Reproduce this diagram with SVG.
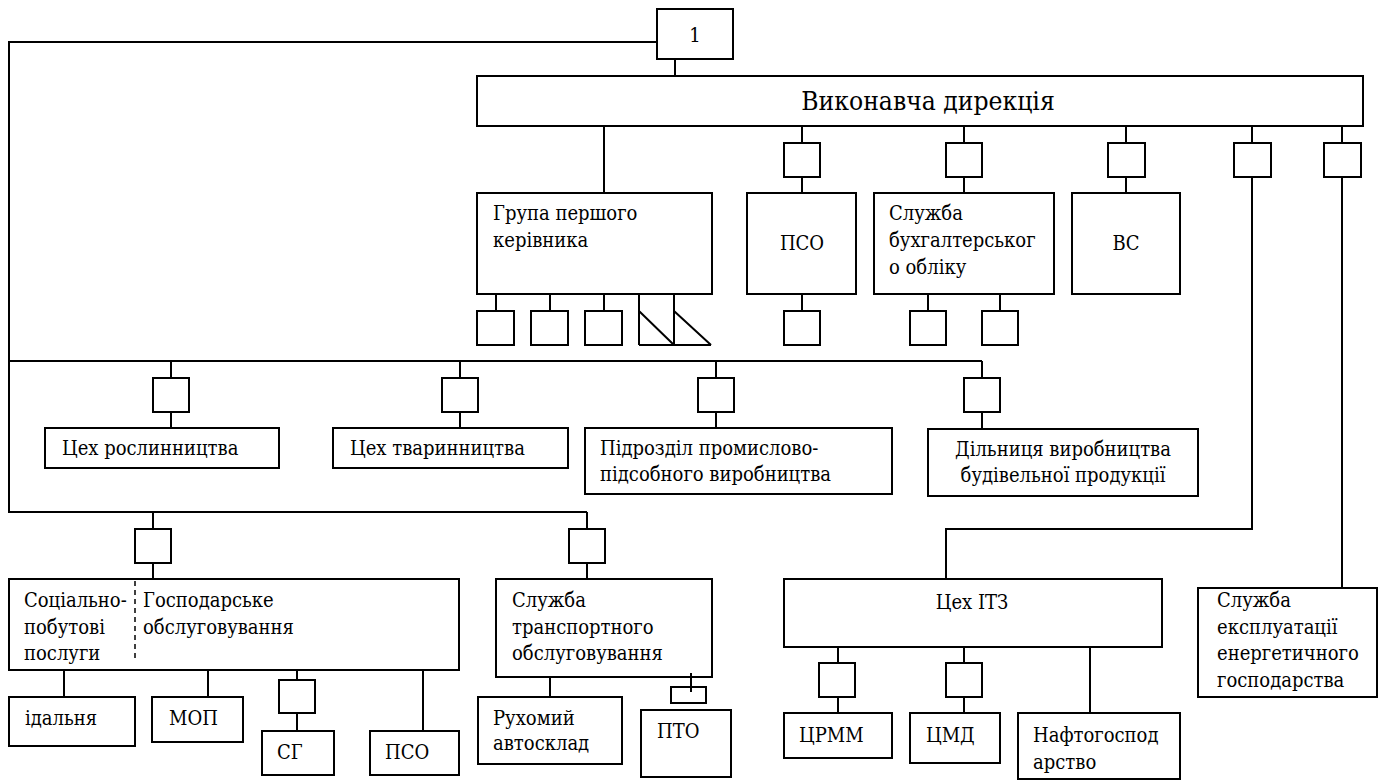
<svg xmlns="http://www.w3.org/2000/svg" width="1379" height="780" viewBox="0 0 1379 780">
<style>
rect{fill:#fff;stroke:#000;stroke-width:2}
path{fill:none;stroke:#000;stroke-width:2}
.dash{stroke-dasharray:5,4;stroke-width:1.5}
text{font-family:'DejaVu Serif Condensed','DejaVu Serif',serif;font-stretch:condensed;font-size:20px;fill:#000}
.c{text-anchor:middle}
.big{font-size:26.2px}
</style>
<rect x="0" y="0" width="1379" height="780" style="fill:#fff;stroke:none"/>
<g id="connectors">
<path d="M657,42 H9 V512 H587"/>
<path d="M9,361 H982"/>
<path d="M675,59 V76"/>
<path d="M604,126 V193"/>
<path d="M802,126 V143 M802,177 V193"/>
<path d="M964,126 V143 M964,177 V193"/>
<path d="M1126,126 V143 M1126,177 V193"/>
<path d="M1252,126 V143 M1252,177 V529 H946 V579"/>
<path d="M1342,126 V143 M1342,177 V588"/>
<path d="M496,294 V311 M550,294 V311 M604,294 V311"/>
<path d="M639,294 V345 M674,294 V345 M639,311 L674,345 M674,311 L711,345 M639,345 H711"/>
<path d="M802,294 V311"/>
<path d="M928,294 V311 M1000,294 V311"/>
<path d="M171,361 V378 M171,412 V428"/>
<path d="M460,361 V378 M460,412 V428"/>
<path d="M716,361 V378 M716,412 V428"/>
<path d="M982,361 V378 M982,412 V429"/>
<path d="M153,512 V529 M153,563 V579"/>
<path d="M587,512 V529 M587,563 V579"/>
<path d="M64,663 V697 M208,663 V697 M297,663 V680 M297,713 V731 M423,663 V731"/>
<path d="M550,663 V697"/>
<path d="M838,647 V663 M838,697 V713 M964,647 V663 M964,697 V713 M1090,647 V713"/>
</g>
<g id="n1"><rect x="657" y="9" width="76" height="50"/><text class="c" x="695" y="42">1</text></g>
<g id="vykon"><rect x="477" y="76" width="886" height="50"/><text class="c big" x="928" y="110">Виконавча дирекція</text></g>
<g id="grupa"><rect x="477" y="193" width="235" height="101"/><text x="493" y="220">Група першого</text><text x="493" y="247">керівника</text></g>
<g id="grupa-s1"><rect x="477" y="311" width="37" height="34"/></g>
<g id="grupa-s2"><rect x="531" y="311" width="37" height="34"/></g>
<g id="grupa-s3"><rect x="585" y="311" width="37" height="34"/></g>
<g id="pso-s-top"><rect x="784" y="143" width="36" height="34"/></g>
<g id="pso"><rect x="747" y="193" width="109" height="101"/><text class="c" x="802" y="250">ПСО</text></g>
<g id="pso-s-bot"><rect x="784" y="311" width="36" height="34"/></g>
<g id="buh-s-top"><rect x="946" y="143" width="36" height="34"/></g>
<g id="buh"><rect x="874" y="193" width="180" height="101"/><text x="889" y="220">Служба</text><text x="889" y="247">бухгалтерськог</text><text x="889" y="274">о обліку</text></g>
<g id="buh-s1"><rect x="910" y="311" width="36" height="34"/></g>
<g id="buh-s2"><rect x="982" y="311" width="36" height="34"/></g>
<g id="vs-s"><rect x="1108" y="143" width="37" height="34"/></g>
<g id="vs"><rect x="1072" y="193" width="108" height="101"/><text class="c" x="1126" y="250">ВС</text></g>
<g id="s-itz"><rect x="1234" y="143" width="37" height="34"/></g>
<g id="s-energ"><rect x="1324" y="143" width="37" height="34"/></g>
<g id="s-rosl"><rect x="153" y="378" width="36" height="34"/></g>
<g id="rosl"><rect x="45" y="428" width="234" height="40"/><text x="62" y="455">Цех рослинництва</text></g>
<g id="s-tvar"><rect x="442" y="378" width="36" height="34"/></g>
<g id="tvar"><rect x="333" y="428" width="235" height="40"/><text x="350" y="455">Цех тваринництва</text></g>
<g id="s-pidr"><rect x="698" y="378" width="36" height="34"/></g>
<g id="pidr"><rect x="585" y="428" width="307" height="66"/><text x="600" y="455">Підрозділ промислово-</text><text x="600" y="481">підсобного виробництва</text></g>
<g id="s-dil"><rect x="964" y="378" width="36" height="34"/></g>
<g id="dil"><rect x="928" y="429" width="270" height="67"/><text class="c" x="1063" y="456">Дільниця виробництва</text><text class="c" x="1063" y="482">будівельної продукції</text></g>
<g id="s-soc"><rect x="135" y="529" width="36" height="34"/></g>
<g id="soc"><rect x="9" y="579" width="450" height="91"/><path class="dash" d="M135,581 V662"/><text x="24" y="607">Соціально-</text><text x="24" y="634">побутові</text><text x="24" y="660">послуги</text><text x="143" y="607">Господарське</text><text x="143" y="634">обслуговування</text></g>
<g id="idal"><rect x="9" y="697" width="126" height="49"/><text x="25" y="725">ідальня</text></g>
<g id="mop"><rect x="152" y="697" width="91" height="45"/><text x="169" y="725">МОП</text></g>
<g id="s-sg"><rect x="279" y="680" width="36" height="33"/></g>
<g id="sg"><rect x="262" y="731" width="72" height="44"/><text x="277" y="759">СГ</text></g>
<g id="pso2"><rect x="370" y="731" width="89" height="44"/><text x="385" y="759">ПСО</text></g>
<g id="s-trans"><rect x="569" y="529" width="36" height="34"/></g>
<g id="trans"><rect x="496" y="579" width="216" height="98"/><text x="512" y="607">Служба</text><text x="512" y="634">транспортного</text><text x="512" y="660">обслуговування</text></g>
<g id="ruh"><rect x="478" y="697" width="144" height="67"/><text x="493" y="725">Рухомий</text><text x="493" y="750">автосклад</text></g>
<g id="s-pto"><rect x="671" y="687" width="35" height="16"/><path d="M691,673 V692"/></g>
<g id="pto"><rect x="641" y="710" width="90" height="67"/><text x="657" y="738">ПТО</text></g>
<g id="itz"><rect x="784" y="579" width="378" height="68"/><text class="c" x="972" y="609">Цех ІТЗ</text></g>
<g id="s-crmm"><rect x="819" y="663" width="36" height="34"/></g>
<g id="crmm"><rect x="784" y="713" width="108" height="45"/><text x="799" y="742">ЦРММ</text></g>
<g id="s-cmd"><rect x="946" y="663" width="36" height="34"/></g>
<g id="cmd"><rect x="910" y="713" width="90" height="50"/><text x="926" y="742">ЦМД</text></g>
<g id="nafto"><rect x="1018" y="713" width="162" height="66"/><text x="1033" y="742">Нафтогоспод</text><text x="1033" y="769">арство</text></g>
<g id="energ"><rect x="1198" y="588" width="179" height="109"/><text x="1217" y="607">Служба</text><text x="1217" y="634">експлуатації</text><text x="1217" y="660">енергетичного</text><text x="1217" y="687">господарства</text></g>
</svg>
